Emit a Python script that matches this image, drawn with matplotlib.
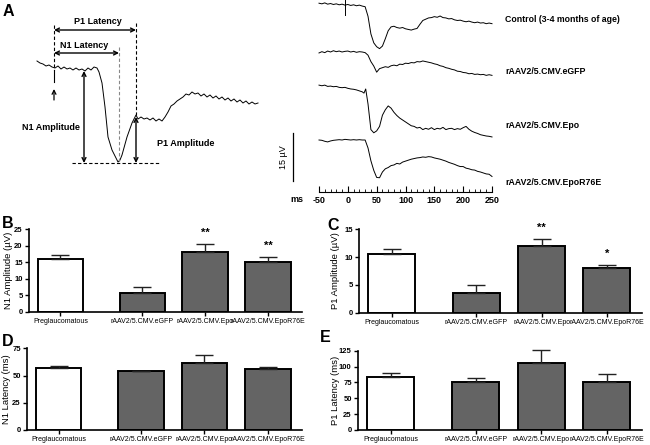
import numpy as np
import matplotlib
matplotlib.use('Agg')
import matplotlib.pyplot as plt

plt.rcParams['font.family'] = ['Liberation Sans', 'DejaVu Sans']
plt.rcParams['axes.unicode_minus'] = False

# ---------------- data ----------------
groups = ['Preglaucomatous', 'rAAV2/5.CMV.eGFP', 'rAAV2/5.CMV.Epo', 'rAAV2/5.CMV.EpoR76E']
n1_amp = [16.1, 5.8, 18.1, 15.1]
n1_amp_err = [1.0, 1.8, 2.5, 1.5]
n1_amp_sig = ['', '', '**', '**']
p1_amp = [10.6, 3.5, 12.0, 8.0]
p1_amp_err = [0.9, 1.4, 1.3, 0.6]
p1_amp_sig = ['', '', '**', '*']
n1_lat = [56.6, 54.0, 61.2, 56.3]
n1_lat_err = [2.2, 0.4, 7.7, 1.8]
p1_lat = [83.0, 75.1, 105.0, 76.1]
p1_lat_err = [6.3, 7.3, 21.0, 12.1]

trace_labels = ['Control (3-4 months of age)', 'rAAV2/5.CMV.eGFP',
                'rAAV2/5.CMV.Epo', 'rAAV2/5.CMV.EpoR76E']

ctrl_t = [-50, -45, -40, -35, -30, -25, -20, -15, -10, -5, 0, 5, 10, 15, 20, 25, 30, 35, 40, 45,
          50, 55, 60, 65, 70, 75, 80, 85, 90, 95, 100, 105, 110, 115, 120, 125, 130, 135, 140, 145,
          150, 155, 160, 165, 170, 175, 180, 185, 190, 195, 200, 205, 210, 215, 220, 225, 230, 235,
          240, 245, 250]
ctrl_v = [0.6, 0.4, 0.7, 0.3, 0.5, 0.2, 0.4, 0.1, 0.3, 0.0, 0.2, -0.1, 0.1, -0.2, 0.0, -0.3, -0.5,
          -3.5, -9.0, -11.8, -13.0, -13.6, -12.8, -10.5, -8.0, -6.8, -6.6, -7.0, -7.2, -7.0, -7.4,
          -7.6, -7.8, -7.5, -7.3, -6.0, -4.8, -4.4, -4.0, -3.9, -3.6, -3.8, -3.4, -3.9, -4.0, -4.3,
          -4.2, -4.6, -4.8, -4.7, -5.0, -5.2, -5.0, -5.3, -5.5, -5.3, -5.6, -5.5, -5.8, -5.6, -5.8]

egfp_t = ctrl_t
egfp_v = [-0.3, 0.1, -0.2, 0.3, 0.0, 0.4, 0.1, 0.3, 0.0, 0.2, 0.3, 0.0, 0.2, -0.1, 0.1, 0.0, -0.2,
          -1.0, -3.0, -4.4, -6.3, -5.2, -4.9, -4.6, -4.8, -4.3, -4.1, -4.3, -3.8, -3.9, -3.5, -3.6,
          -3.3, -3.4, -3.0, -3.1, -2.8, -3.0, -3.2, -3.4, -3.7, -3.9, -4.3, -4.5, -4.9, -5.1, -5.4,
          -5.6, -6.0, -6.1, -6.4, -6.5, -6.8, -6.7, -7.0, -6.9, -7.1, -7.0, -7.3, -7.1, -7.3]

epo_t = [-50, -45, -40, -35, -30, -25, -20, -15, -10, -5, 0, 5, 10, 15, 20, 25, 28, 31, 35, 40, 45,
         50, 55, 60, 65, 70, 75, 80, 85, 90, 95, 100, 105, 110, 115, 120, 125, 130, 135, 140, 145,
         150, 155, 160, 165, 170, 175, 180, 185, 190, 195, 200, 205, 210, 215, 220, 225, 230, 235,
         240, 245, 250]
epo_v = [0.9, 0.7, 0.9, 0.5, 0.6, 0.4, 0.5, 0.2, 0.1, 0.2, -0.1, -0.3, -0.4, -0.6, -0.9, -1.2,
         -1.6, -0.3, -5.0, -13.0, -14.0, -13.4, -12.0, -8.5, -6.8, -5.6, -6.3, -7.6, -8.6, -9.4,
         -10.0, -10.6, -11.2, -11.8, -12.0, -12.5, -12.3, -13.0, -12.6, -12.9, -12.4, -13.0, -12.6,
         -12.8, -12.3, -13.0, -12.7, -12.6, -13.0, -12.7, -12.9, -12.4, -12.0, -12.9, -13.5, -13.9,
         -14.2, -14.6, -14.8, -15.0, -15.1, -15.3]

epor_t = ctrl_t
epor_v = [0.0, -0.1, -0.4, -0.6, -0.3, -0.1, 0.0, 0.1, 0.0, 0.2, 0.1, 0.0, 0.1, 0.0, 0.1, 0.0, 0.0,
          -2.5, -6.5, -9.5, -11.7, -11.8, -10.0, -9.0, -8.6, -8.0, -7.8, -7.3, -7.5, -6.9, -6.6,
          -6.3, -6.0, -5.8, -5.6, -5.5, -5.3, -5.4, -5.2, -5.3, -5.6, -5.8, -6.0, -6.3, -6.6, -7.0,
          -7.3, -7.6, -8.0, -8.3, -8.3, -8.8, -9.0, -9.3, -9.4, -9.8, -10.0, -10.3, -10.6, -10.7,
          -11.4]

# schematic trace (sketch units: time from stimulus, amplitude from baseline)
schem_t = [-17, -14, -11, -8, -5, -2, 1, 4, 7, 10, 13, 16, 19, 22, 25, 28, 31, 34, 37, 40, 43, 45,
           48, 51, 54, 58, 62, 64, 66, 68, 73, 78, 82, 84, 87, 90, 93, 96, 99, 102, 105, 108, 111,
           114, 117, 120, 123, 126, 129, 132, 135, 138, 141, 144, 147, 150, 153, 156, 159, 162, 165,
           168, 171, 174, 177, 180, 183, 186, 189, 192, 195, 198, 201, 204]
schem_v = [7, 5, 4, 2, 3, 1, 0, 2, -1, 1, -1, 0, -2, 0, -2, -1, -3, 0, -2, 1, 0, -4,
           -15, -39, -69, -82, -90, -94, -92, -87, -69, -55, -47, -51, -49, -51, -50, -52, -50, -53,
           -51, -53, -49, -44, -38, -36, -33, -31, -29, -26, -27, -24, -26, -25, -28, -26, -29, -27,
           -30, -28, -31, -29, -32, -30, -33, -31, -34, -32, -35, -33, -36, -34, -36, -35]

# ---------------- figure ----------------
W, H = 650, 445
fig = plt.figure(figsize=(6.5, 4.45), dpi=100)


def fx(px):
    return px / W


def fy(py):
    return 1 - py / H


# ----- Panel A: schematic -----
axs = fig.add_axes([0, fy(180), fx(270), 180 / H])
axs.set_xlim(-54, 216)
axs.set_ylim(-112, 68)
axs.axis('off')
axs.plot(schem_t, schem_v, color='black', lw=0.7)
arr = dict(arrowstyle='<->', lw=1.0, color='black', shrinkA=0, shrinkB=0, mutation_scale=7)
# stimulus marker
axs.plot([0, 0], [43, -2], color='black', lw=0.8, ls=(0, (3, 2)))
axs.plot([0, 0], [-2, -14], color='black', lw=0.8)
axs.annotate('', xy=(0, -21), xytext=(0, -32),
             arrowprops=dict(arrowstyle='->', lw=0.9, color='black', shrinkA=0, shrinkB=0, mutation_scale=7))
# latency dashed lines
axs.plot([65, 65], [21, -94], color='#888888', lw=0.8, ls=(0, (3, 2)))
axs.plot([82, 82], [45, -47], color='black', lw=0.8, ls=(0, (3, 2)))
# baseline dashed
axs.plot([18, 106], [-95, -95], color='black', lw=0.8, ls=(0, (3, 2)))
# arrows
axs.annotate('', xy=(0, 38), xytext=(82, 38), arrowprops=arr)
axs.annotate('', xy=(0, 15), xytext=(65, 15), arrowprops=arr)
axs.annotate('', xy=(30, -3), xytext=(30, -95), arrowprops=arr)
axs.annotate('', xy=(82, -49), xytext=(82, -95), arrowprops=arr)
tkw = dict(fontsize=6.5, fontweight='bold')
axs.text(44, 46, 'P1 Latency', ha='center', va='center', **tkw)
axs.text(30, 23, 'N1 Latency', ha='center', va='center', **tkw)
axs.text(26, -59, 'N1 Amplitude', ha='right', va='center', **tkw)
axs.text(103, -76, 'P1 Amplitude', ha='left', va='center', **tkw)

# ----- Panel A: traces -----
axt = fig.add_axes([fx(319), fy(192), fx(492) - fx(319), 192 / H])
axt.set_xlim(-50, 250)
axt.set_ylim(0, 60)
offsets = [58.4, 43.75, 32.5, 16.25]
for (t, v), off in zip([(ctrl_t, ctrl_v), (egfp_t, egfp_v), (epo_t, epo_v), (epor_t, epor_v)], offsets):
    axt.plot(t, np.array(v) + off, color='black', lw=0.7, clip_on=False)
# stimulus marker on control trace
axt.plot([-5, -5], [offsets[0] + 1.6, offsets[0] - 3.1], color='black', lw=0.7, clip_on=False)
for s in ['top', 'right', 'left']:
    axt.spines[s].set_visible(False)
axt.spines['bottom'].set_linewidth(0.8)
axt.set_yticks([])
axt.set_xticks([-50, 0, 50, 100, 150, 200, 250])
axt.set_xticks(np.arange(-50, 251, 10), minor=True)
axt.tick_params(axis='x', which='major', direction='in', length=4, width=0.8, pad=3,
                labelsize=6.5)
axt.tick_params(axis='x', which='minor', direction='in', length=2.2, width=0.6)
for lb in axt.get_xticklabels():
    lb.set_fontweight('bold')
fig.text(fx(297), fy(200), 'ms', fontsize=6.5, fontweight='bold', ha='center', va='center')
# scale bar 15 uV
axt.plot([-95, -95], [3.44, 3.44 + 15], color='black', lw=0.9, clip_on=False)
axt.text(-112, 3.44 + 7.5, '15 µV', rotation=90, ha='center', va='center', fontsize=6.5)
for lbl, py in zip(trace_labels, [20, 71, 126, 182]):
    fig.text(fx(505), fy(py), lbl, fontsize=6.3, fontweight='bold', ha='left', va='center')

# ----- Bar panels -----
xpos = [0, 1.3, 2.3, 3.3]
colors = ['white', '#646464', '#646464', '#646464']


def bar_panel(rect, vals, errs, ylabel, yticks, label_px, sig=None):
    ax = fig.add_axes(rect)
    ax.bar(xpos, vals, width=0.72, color=colors, edgecolor='black', linewidth=1.4, zorder=2)
    eb = ax.errorbar(xpos, vals, yerr=[np.zeros(4), errs], fmt='none', ecolor='#222222',
                     elinewidth=1.0, capsize=6.5, capthick=1.0, zorder=3)
    for art in eb.lines[1] + eb.lines[2]:
        art.set_clip_on(False)
    ax.set_xlim(-0.5, 3.84)
    ax.set_ylim(0, yticks[-1])
    ax.set_yticks(yticks)
    ax.set_xticks(xpos)
    ax.set_xticklabels(groups, fontsize=5.0)
    for s in ['top', 'right']:
        ax.spines[s].set_visible(False)
    for s in ['left', 'bottom']:
        ax.spines[s].set_linewidth(1.2)
    ax.tick_params(axis='y', length=3, width=1.0, labelsize=5.5, pad=1.5)
    ax.tick_params(axis='x', length=3, width=1.0, pad=1.5)
    for lb in ax.get_yticklabels():
        lb.set_fontweight('bold')
    ax.set_ylabel(ylabel, fontsize=6.8)
    # position label (right edge of rotated text) in pixels from the axis
    left_px = rect[0] * W
    width_px = rect[2] * W
    ax.yaxis.set_label_coords((label_px + 4.5 - left_px) / width_px, 0.5)
    if sig:
        for x, v, e, s in zip(xpos, vals, errs, sig):
            if s:
                ax.annotate(s, xy=(x, v + e), xytext=(0, 4), textcoords='offset points',
                            ha='center', va='bottom', fontsize=8, fontweight='bold')
    return ax


bar_panel([fx(29), fy(312), fx(302) - fx(29), 83 / H], n1_amp, n1_amp_err,
          'N1 Amplitude (µV)', [0, 5, 10, 15, 20, 25], 9, n1_amp_sig)
bar_panel([fx(359), fy(312.7), fx(642) - fx(359), 83.4 / H], p1_amp, p1_amp_err,
          'P1 Amplitude (µV)', [0, 5, 10, 15], 336, p1_amp_sig)
bar_panel([fx(27), fy(430), fx(302) - fx(27), 81.7 / H], n1_lat, n1_lat_err,
          'N1 Latency (ms)', [0, 25, 50, 75], 7)
bar_panel([fx(358), fy(430), fx(642) - fx(358), 79.3 / H], p1_lat, p1_lat_err,
          'P1 Latency (ms)', [0, 25, 50, 75, 100, 125], 335)

# panel letters
for letter, px, py in [('A', 3, 11), ('B', 2, 223), ('C', 327, 225), ('D', 2, 341), ('E', 320, 338)]:
    fig.text(fx(px), fy(py), letter, fontsize=11.5, fontweight='bold', ha='left', va='center')

fig.savefig('out.png', dpi=100)
